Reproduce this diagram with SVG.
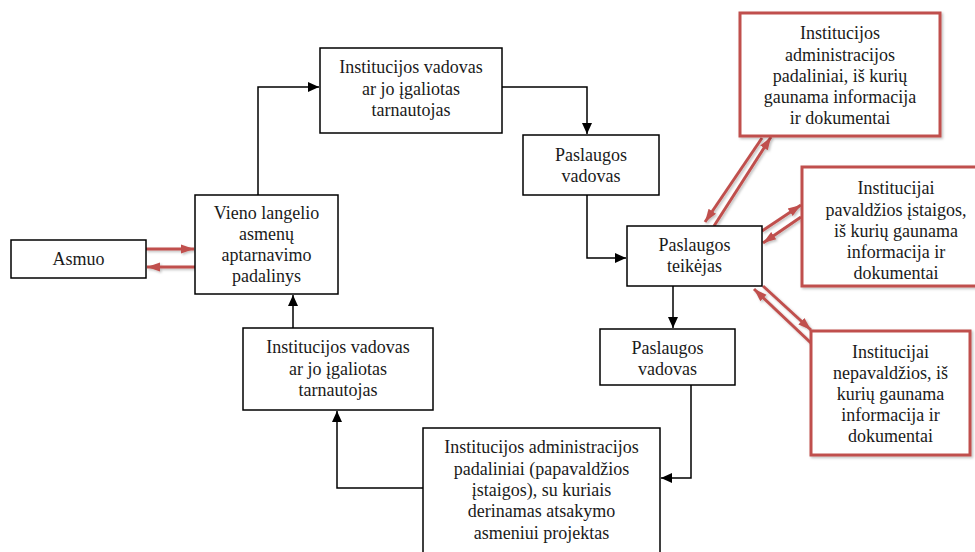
<svg xmlns="http://www.w3.org/2000/svg" width="975" height="552" viewBox="0 0 975 552">
<style>
.box{fill:#fff;stroke:#000;stroke-width:1.5}
.rbox{fill:#fff;stroke:#c0504d;stroke-width:3}
.c{fill:none;stroke:#000;stroke-width:1.5}
.r{fill:none;stroke:#c0504d;stroke-width:3}
</style>
<defs>
<marker id="ah" markerUnits="userSpaceOnUse" markerWidth="12" markerHeight="12" viewBox="0 0 12 12" refX="11" refY="6" orient="auto">
<path d="M0,1 L11,6 L0,11 Z" fill="#000"/>
</marker>
<marker id="rh" markerUnits="userSpaceOnUse" markerWidth="14" markerHeight="12" viewBox="0 0 14 12" refX="13" refY="6" orient="auto">
<path d="M0,1.5 L13,6 L0,10.5 Z" fill="#c0504d"/>
</marker>
<filter id="sh" x="-20%" y="-20%" width="140%" height="140%">
<feDropShadow dx="1.5" dy="1.5" stdDeviation="1.2" flood-color="#000" flood-opacity="0.25"/>
</filter>
</defs>

<g id="connectors">
<path class="c" d="M258,195 V87 H319" marker-end="url(#ah)"/>
<path class="c" d="M502,87 H587 V134" marker-end="url(#ah)"/>
<path class="c" d="M587,195 V258 H626" marker-end="url(#ah)"/>
<path class="c" d="M673,286 V328" marker-end="url(#ah)"/>
<path class="c" d="M691,385 V478 H661" marker-end="url(#ah)"/>
<path class="c" d="M423,488 H337 V411" marker-end="url(#ah)"/>
<path class="c" d="M293,328 V295" marker-end="url(#ah)"/>
<g filter="url(#sh)">
<path class="r" d="M146,249 H194" marker-end="url(#rh)"/>
<path class="r" d="M195,267 H147" marker-end="url(#rh)"/>
<path class="r" d="M762,138 L705,222" marker-end="url(#rh)"/>
<path class="r" d="M714,226 L771,137" marker-end="url(#rh)"/>
<path class="r" d="M762,231 L801,205" marker-end="url(#rh)"/>
<path class="r" d="M801,217 L763,243" marker-end="url(#rh)"/>
<path class="r" d="M811,343 L754,289" marker-end="url(#rh)"/>
<path class="r" d="M763,286 L811,330" marker-end="url(#rh)"/>
</g>
</g>

<g font-family="Liberation Serif, DejaVu Serif, serif" font-size="18" fill="#1a1a1a" text-anchor="middle">
<g id="asmuo">
<rect class="box" x="11" y="240" width="135" height="38"/>
<text x="78.5" y="265">Asmuo</text>
</g>

<g id="vieno-langelio">
<rect class="box" x="195" y="195" width="143" height="99"/>
<text x="266.5" y="219">Vieno langelio</text>
<text x="266.5" y="240">asmenų</text>
<text x="266.5" y="261">aptarnavimo</text>
<text x="266.5" y="282">padalinys</text>
</g>

<g id="inst-vadovas-top">
<rect class="box" x="320" y="48" width="182" height="85"/>
<text x="411" y="73">Institucijos vadovas</text>
<text x="411" y="94.5">ar jo įgaliotas</text>
<text x="411" y="116">tarnautojas</text>
</g>

<g id="paslaugos-vadovas-1">
<rect class="box" x="523" y="135" width="136" height="60"/>
<text x="591" y="161">Paslaugos</text>
<text x="591" y="182">vadovas</text>
</g>

<g id="paslaugos-teikejas">
<rect class="box" x="627" y="226" width="135" height="60"/>
<text x="694.5" y="251">Paslaugos</text>
<text x="694.5" y="272">teikėjas</text>
</g>

<g id="paslaugos-vadovas-2">
<rect class="box" x="600" y="329" width="135" height="56"/>
<text x="667.5" y="354">Paslaugos</text>
<text x="667.5" y="375">vadovas</text>
</g>

<g id="inst-vadovas-bottom">
<rect class="box" x="243" y="328" width="190" height="82"/>
<text x="338" y="353">Institucijos vadovas</text>
<text x="338" y="374.5">ar jo įgaliotas</text>
<text x="338" y="396">tarnautojas</text>
</g>

<g id="inst-admin-padaliniai">
<rect class="box" x="423" y="428" width="237" height="140"/>
<text x="541.5" y="453">Institucijos administracijos</text>
<text x="541.5" y="474.5">padaliniai (papavaldžios</text>
<text x="541.5" y="496">įstaigos), su kuriais</text>
<text x="541.5" y="517">derinamas atsakymo</text>
<text x="541.5" y="538.5">asmeniui projektas</text>
</g>

<g id="r1">
<rect class="rbox" x="740" y="13" width="200" height="123" filter="url(#sh)"/>
<text x="840" y="39">Institucijos</text>
<text x="840" y="60.5">administracijos</text>
<text x="840" y="82">padaliniai, iš kurių</text>
<text x="840" y="103">gaunama informacija</text>
<text x="840" y="124">ir dokumentai</text>
</g>

<g id="r2">
<rect class="rbox" x="802" y="167" width="190" height="119" filter="url(#sh)"/>
<text x="896" y="194">Institucijai</text>
<text x="896" y="215.5">pavaldžios įstaigos,</text>
<text x="896" y="237">iš kurių gaunama</text>
<text x="896" y="258">informacija ir</text>
<text x="896" y="279">dokumentai</text>
</g>

<g id="r3">
<rect class="rbox" x="811" y="331" width="159" height="124" filter="url(#sh)"/>
<text x="890.5" y="358">Institucijai</text>
<text x="890.5" y="379">nepavaldžios, iš</text>
<text x="890.5" y="400">kurių gaunama</text>
<text x="890.5" y="421">informacija ir</text>
<text x="890.5" y="442">dokumentai</text>
</g>
</g>
</svg>
